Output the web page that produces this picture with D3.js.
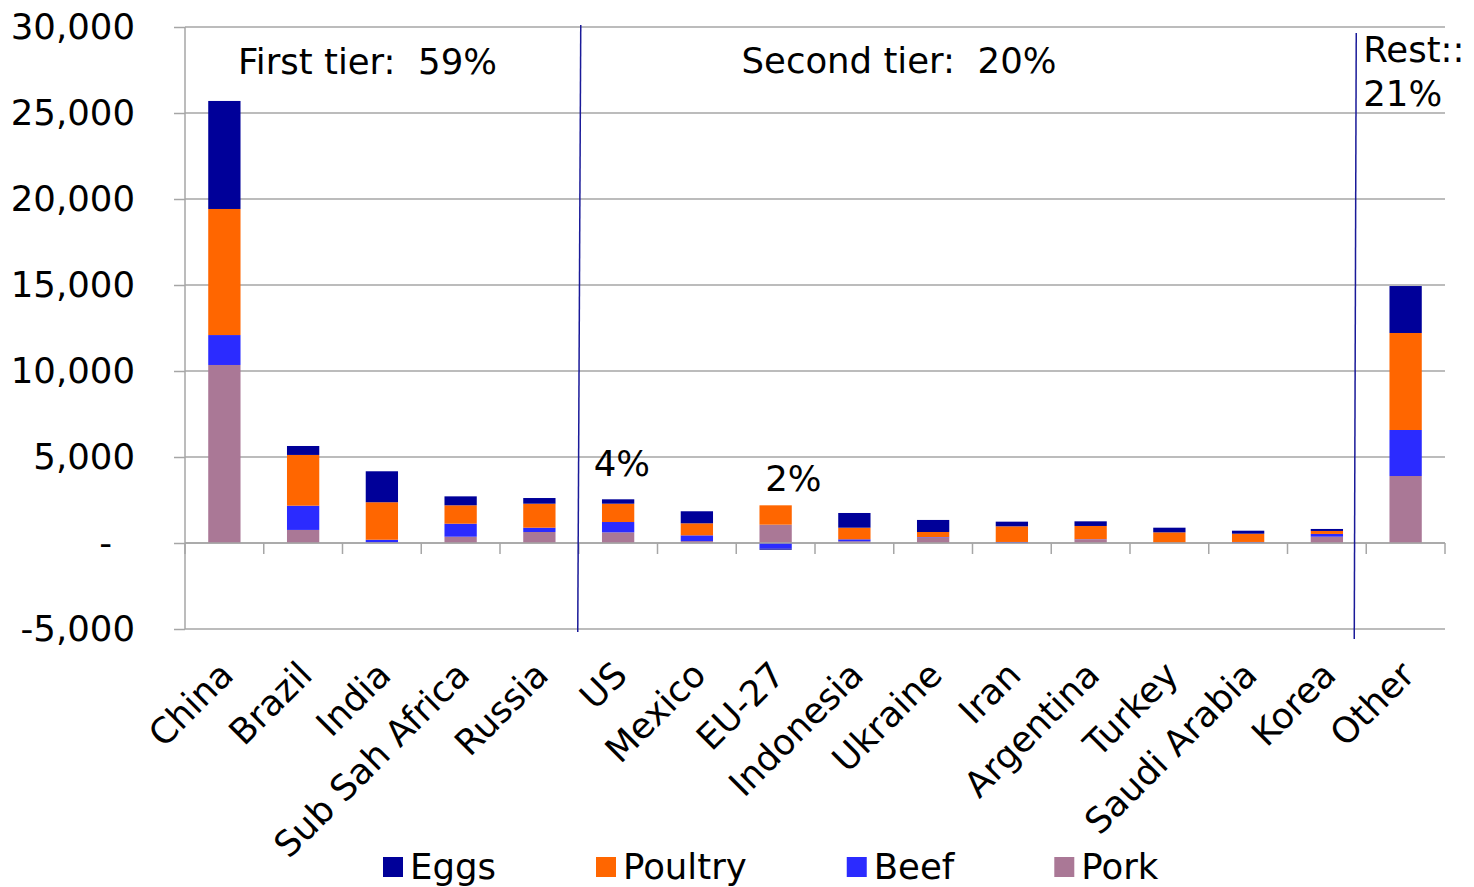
<!DOCTYPE html>
<html>
<head>
<meta charset="utf-8">
<script src="https://cdn.jsdelivr.net/npm/d3@7"></script>
<style>
  html, body { margin: 0; padding: 0; background: #fff; }
  svg { display: block; }
  text { font-family: "DejaVu Sans", Verdana, sans-serif; fill: #000; }
</style>
</head>
<body>
<svg id="chart" width="1474" height="887"></svg>
<script>
// Net meat & egg supply by region (thousand tonnes)
const categories = ["China", "Brazil", "India", "Sub Sah Africa", "Russia", "US", "Mexico",
  "EU-27", "Indonesia", "Ukraine", "Iran", "Argentina", "Turkey", "Saudi Arabia", "Korea", "Other"];

const pork    = [10350,  760,   30,  366,  640,  620, 110, 1066, 100, 310,   0, 200,   0,  20, 366, 3895];
const beef    = [ 1740, 1410,  160,  756,  250,  600, 335, -330, 115,  30,  60,  20,  20,  40, 160, 2675];
const poultry = [ 7330, 2950, 2180, 1070, 1395, 1065, 700, 1125, 675, 300, 910, 770, 600, 480, 175, 5640];
const eggs    = [ 6280,  520, 1800,  520,  330,  255, 700,  -60, 855, 700, 270, 270, 270, 175, 115, 2730];

const seriesNames  = ["Pork", "Beef", "Poultry", "Eggs"];          // stacking order, bottom up
const legendOrder  = ["Eggs", "Poultry", "Beef", "Pork"];
const colors = { Eggs: "#000099", Poultry: "#FF6600", Beef: "#2B2BFF", Pork: "#AA7896" };

const yTicks = [-5000, 0, 5000, 10000, 15000, 20000, 25000, 30000];

const tierLabels = [
  { text: "First tier:  59%",  at: "China",  dx: 53, y: 74 },
  { text: "Second tier:  20%", at: "Mexico", dx: 84, y: 73 },
  { text: "4%",                at: "US",     dx: 15, y: 476 },
  { text: "2%",                at: "EU-27",  dx: 29, y: 491 }
];

const FONT = 35.5;
const svg = d3.select("#chart");
const m = { left: 185, right: 29, top: 27, bottom: 258 };
const W = 1474, H = 887;

const x = d3.scaleBand().domain(categories).range([m.left, W - m.right]).padding(0);
const y = d3.scaleLinear().domain([-5000, 30000]).range([H - m.bottom, m.top]);
const barW = x.bandwidth() * 0.41;

const table = categories.map((c, i) => ({
  cat: c, Pork: pork[i], Beef: beef[i], Poultry: poultry[i], Eggs: eggs[i]
}));
const stacked = d3.stack().keys(seriesNames).offset(d3.stackOffsetDiverging)(table);

// gridlines
svg.append("g").selectAll("line").data(yTicks).join("line")
  .attr("x1", m.left).attr("x2", W - m.right)
  .attr("y1", d => y(d)).attr("y2", d => y(d))
  .attr("stroke", "#a6a6a6").attr("stroke-width", 1.5);

// y axis: thousands separators, plain hyphen for negatives, dash for zero
const fmt = d3.formatLocale({ decimal: ".", thousands: ",", grouping: [3], currency: ["", ""], minus: "-" }).format(",");
const yAxis = d3.axisLeft(y).tickValues(yTicks).tickSize(11).tickPadding(39)
  .tickFormat(d => d === 0 ? "-" : fmt(d));
const gy = svg.append("g").attr("transform", `translate(${m.left},0)`).call(yAxis);
gy.select(".domain").attr("stroke", "#a6a6a6").attr("stroke-width", 1.5).attr("d", `M0,${y(-5000)}V${y(30000)}`);
gy.selectAll(".tick line").attr("stroke", "#a6a6a6").attr("stroke-width", 1.5);
gy.selectAll(".tick text").style("font-size", FONT + "px").style("font-family", '"DejaVu Sans", Verdana, sans-serif')
  .attr("fill", "#000")
  .attr("dx", d => d === 0 ? -23 : 0);

// bars
svg.append("g").selectAll("g").data(stacked).join("g")
  .attr("fill", s => colors[s.key])
  .selectAll("rect").data(s => s.map(v => ({ v, cat: v.data.cat }))).join("rect")
  .attr("x", d => x(d.cat) + (x.bandwidth() - barW) / 2)
  .attr("width", barW)
  .attr("y", d => y(Math.max(d.v[0], d.v[1])))
  .attr("height", d => Math.abs(y(d.v[0]) - y(d.v[1])));

// x axis line at zero with boundary tick marks
const boundaries = categories.map(c => x(c)).concat([W - m.right]);
const gx = svg.append("g");
gx.append("line").attr("x1", m.left).attr("x2", W - m.right)
  .attr("y1", y(0)).attr("y2", y(0)).attr("stroke", "#a6a6a6").attr("stroke-width", 1.5);
gx.selectAll("line.tk").data(boundaries).join("line").attr("class", "tk")
  .attr("x1", d => d).attr("x2", d => d)
  .attr("y1", y(0)).attr("y2", y(0) + 11)
  .attr("stroke", "#a6a6a6").attr("stroke-width", 1.5);

// rotated category labels
svg.append("g").selectAll("text").data(categories).join("text")
  .attr("transform", d => `translate(${x(d) + x.bandwidth() / 2 + 11},${677}) rotate(-45)`)
  .attr("text-anchor", "end")
  .style("font-size", FONT + "px")
  .text(d => d);

// tier divider lines
const dividers = [
  { x0: x("US") + 2, x1: x("US") - 1, y0: 25, y1: 632 },
  { x0: x("Other") - 10, x1: x("Other") - 12, y0: 33, y1: 639 }
];
svg.append("g").selectAll("line").data(dividers).join("line")
  .attr("x1", d => d.x0).attr("x2", d => d.x1)
  .attr("y1", d => d.y0).attr("y2", d => d.y1)
  .attr("stroke", "#1a1a99").attr("stroke-width", 1.5);

// tier annotations
svg.append("g").selectAll("text").data(tierLabels).join("text")
  .attr("x", d => x(d.at) + d.dx).attr("y", d => d.y)
  .style("font-size", FONT + "px").style("white-space", "pre")
  .text(d => d.text);

const rest = svg.append("text").attr("x", x("Other") - 3).attr("y", 62).style("font-size", FONT + "px");
rest.append("tspan").attr("x", x("Other") - 3).attr("y", 62).text("Rest::");
rest.append("tspan").attr("x", x("Other") - 3).attr("y", 106).text("21%");

// legend
const lg = svg.append("g");
let lx = 383;
legendOrder.forEach(k => {
  lg.append("rect").attr("x", lx).attr("y", 857).attr("width", 20).attr("height", 20).attr("fill", colors[k]);
  const t = lg.append("text").attr("x", lx + 27).attr("y", 879).style("font-size", FONT + "px").text(k);
  lx += 27 + t.node().getComputedTextLength() + 100;
});
</script>
</body>
</html>
